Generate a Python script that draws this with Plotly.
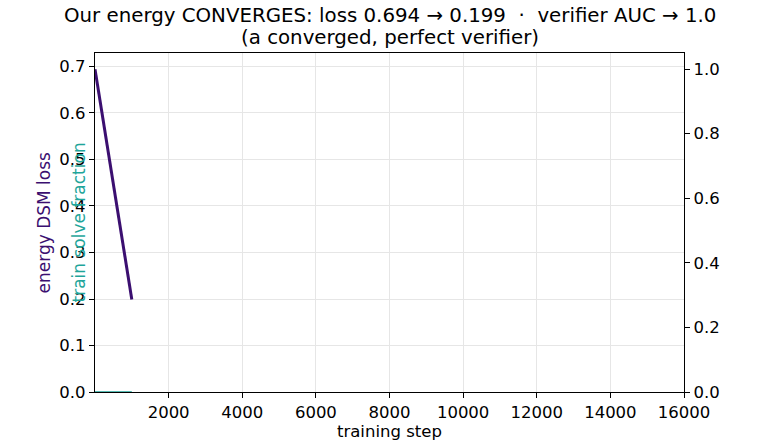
import plotly.graph_objects as go

steps = [0, 1000]
energy_loss = [0.694, 0.199]
solve_fraction = [0.0, 0.0]
x_ticks = [2000, 4000, 6000, 8000, 10000, 12000, 14000, 16000]
left_ticks = [0.0, 0.1, 0.2, 0.3, 0.4, 0.5, 0.6, 0.7]
right_ticks = [0.0, 0.2, 0.4, 0.6, 0.8, 1.0]

PURPLE = "#3b0f70"
TEAL = "#1fa59a"
FONT = "DejaVu Sans"

L, R, T, B = 95, 76, 53, 48
W, H = 760, 440
PW, PH = W - L - R, H - T - B


def px_to_paper_y(py):
    return (H - B - py) / PH


def px_to_paper_x(px):
    return (px - L) / PW


fig = go.Figure()
fig.add_trace(go.Scatter(x=steps, y=energy_loss, mode="lines",
                         line=dict(color=PURPLE, width=3), yaxis="y", showlegend=False))
fig.add_trace(go.Scatter(x=steps, y=solve_fraction, mode="lines",
                         line=dict(color=TEAL, width=1.5), yaxis="y2", showlegend=False))

axis_common = dict(showline=True, linecolor="black", linewidth=1.2, ticks="outside",
                   ticklen=5, tickcolor="black", zeroline=False, automargin=False,
                   tickfont=dict(family=FONT, size=16.5, color="black"))

fig.update_layout(
    width=W, height=H,
    margin=dict(l=L, r=R, t=T, b=B),
    plot_bgcolor="white", paper_bgcolor="white",
    font=dict(family=FONT, color="black"),
    xaxis=dict(range=[0, 16000], tickvals=x_ticks, ticktext=[str(v) for v in x_ticks],
               mirror=True, showgrid=True, gridcolor="#e6e6e6", gridwidth=1,
               **axis_common),
    yaxis=dict(range=[0, 0.729], tickvals=left_ticks, ticktext=[f"{v:.1f}" for v in left_ticks],
               showgrid=True, gridcolor="#e6e6e6", gridwidth=1, **axis_common),
    yaxis2=dict(range=[0, 1.05], tickvals=right_ticks, ticktext=[f"{v:.1f}" for v in right_ticks],
                overlaying="y", side="right", showgrid=False, **axis_common),
    annotations=[
        dict(text="Our energy CONVERGES: loss 0.694 → 0.199  ·  verifier AUC → 1.0",
             xref="paper", yref="paper", x=0.5, y=px_to_paper_y(16), xanchor="center",
             yanchor="middle", showarrow=False,
             font=dict(family=FONT, size=19.8, color="black")),
        dict(text="(a converged, perfect verifier)",
             xref="paper", yref="paper", x=0.5, y=px_to_paper_y(38), xanchor="center",
             yanchor="middle", showarrow=False,
             font=dict(family=FONT, size=19.8, color="black")),
        dict(text="training step", xref="paper", yref="paper",
             x=0.5, y=px_to_paper_y(432), xanchor="center", yanchor="middle",
             showarrow=False, font=dict(family=FONT, size=16.5, color="black")),
        dict(text="energy DSM loss", textangle=-90, xref="paper", yref="paper",
             x=px_to_paper_x(43), y=0.5, xanchor="center", yanchor="middle", showarrow=False,
             font=dict(family=FONT, size=17, color=PURPLE)),
        dict(text="train solve fraction", textangle=-90, xref="paper", yref="paper",
             x=px_to_paper_x(78), y=0.5, xanchor="center", yanchor="middle", showarrow=False,
             font=dict(family=FONT, size=17, color=TEAL)),
    ],
)

fig.write_html("out.html")
